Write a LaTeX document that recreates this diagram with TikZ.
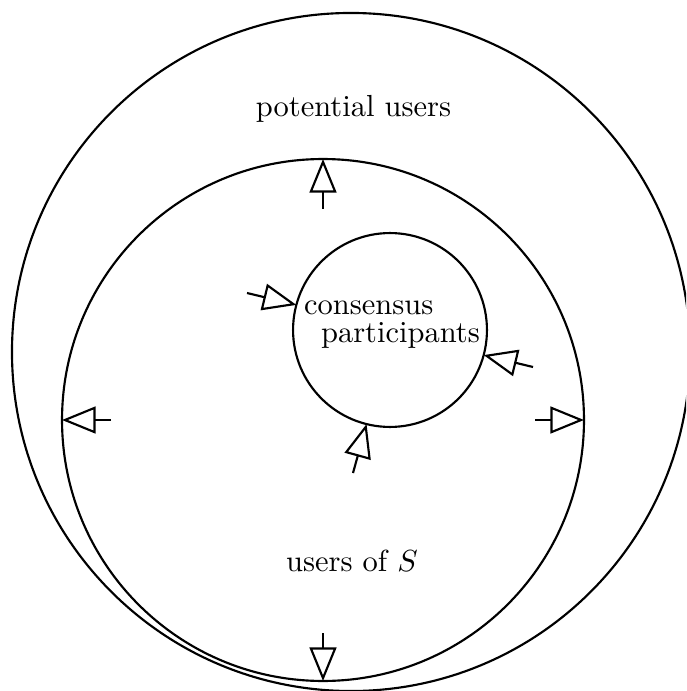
\documentclass[tikz,border=0pt]{standalone}
\usetikzlibrary{arrows.meta}
\begin{document}
\begin{tikzpicture}[x=0.328pt,y=-0.328pt,line width=0.7pt,
  ring/.style={circle,draw,inner sep=0pt,outer sep=0pt},
  flow/.style={-{Triangle[open,length=11pt,width=8.8pt]}},
  lbl/.style={inner sep=0pt,anchor=base}]
\useasboundingbox (0,0) rectangle (686,691);
\clip (0,0) rectangle (686,691);
% circles
\node[ring,minimum size=222.4pt] (outer) at (351,352) {};
\node[ring,minimum size=171.2pt] (mid) at (323,420) {};
\node[ring,minimum size=63.6pt] (inner) at (390,330) {};
% labels
\node[lbl] (pot) at (353.5,117) {potential users};
\node[lbl] (uos) at (352,571) {users of $S$};
\node[lbl,anchor=base west] (cons) at (303,315) {consensus};
\node[lbl,anchor=base west] (part) at (320,343) {participants};
% tails
\coordinate (tT) at (323,209);
\coordinate (tL) at (111,420);
\coordinate (tR) at (535,420);
\coordinate (tB) at (323,633);
\coordinate (iA) at (247,293);
\coordinate (iB) at (533,367);
\coordinate (iC) at (353,473);
% arrows out of users of S
\draw[flow] (tT) -- (mid.90);
\draw[flow] (tL) -- (mid.180);
\draw[flow] (tR) -- (mid.0);
\draw[flow] (tB) -- (mid.270);
% arrows into consensus participants
\draw[flow] (iA) -- (inner.165);
\draw[flow] (iB) -- (inner.345);
\draw[flow] (iC) -- (inner.256);
\end{tikzpicture}
\end{document}
